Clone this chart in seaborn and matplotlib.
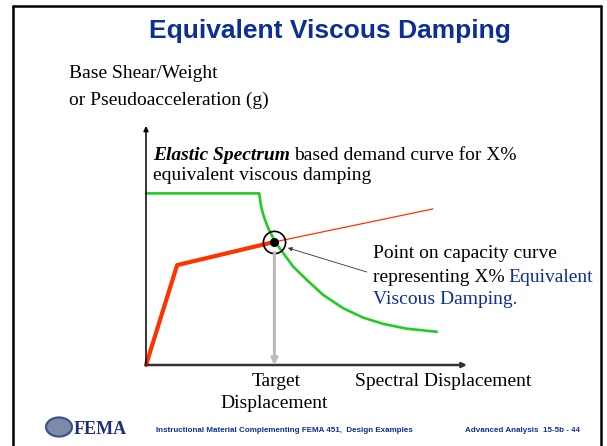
import numpy as np
import pandas as pd
import matplotlib

matplotlib.use("Agg")
import matplotlib.pyplot as plt
import seaborn as sns
from matplotlib.lines import Line2D

# capacity curve (bilinear), in spectral displacement / acceleration units
cap_disp = [0.0, 0.97, 4.0]
cap_acc = [0.0, 4.18, 5.15]
cap_ext_disp = [4.0, 8.94]
cap_ext_acc = [5.15, 6.53]

# elastic spectrum demand curve for X% damping
dem_disp = [0.0, 3.53, 3.55, 3.58, 3.63, 3.7, 3.81, 4.02, 4.28, 4.59, 5.01,
            5.52, 6.15, 6.77, 7.39, 8.12, 9.06]
dem_acc = [7.18, 7.18, 6.95, 6.68, 6.4, 6.1, 5.72, 5.16, 4.67, 4.11, 3.56,
           2.93, 2.37, 1.98, 1.72, 1.52, 1.39]

perf_disp = 4.0
perf_acc = 5.15

W, H = 607, 446
BLUE = "#0B2F96"
SERIF = "Liberation Serif"
SANS = "Liberation Sans"


def fx(px):
    return px / W


def fy(py):
    return 1 - py / H


sns.set_theme(style="white")
fig = plt.figure(figsize=(W / 100, H / 100), dpi=100)

# slide frame
for xs, ys in [([13, 13], [446, 6]), ([13, 600.5], [6, 6]),
               ([600.5, 600.5], [6, 446])]:
    fig.add_artist(Line2D([fx(v) for v in xs], [fy(v) for v in ys],
                          color="black", lw=1.8))

fig.text(fx(330), fy(38), "Equivalent Viscous Damping", ha="center",
         va="baseline", fontsize=19, fontweight="bold", color=BLUE,
         family=SANS)

# chart axes
x0, x1, ytop, ybot = 146, 467, 126, 365
ax = fig.add_axes([fx(x0), fy(ybot), (x1 - x0) / W, (ybot - ytop) / H])
ax.set_xlim(0, 10)
ax.set_ylim(0, 10)
ax.axis("off")

ax.annotate("", xy=(0, 10), xytext=(0, 0),
            arrowprops=dict(arrowstyle="-|>", color="black", lw=1.1,
                            mutation_scale=7, shrinkA=0, shrinkB=0))
ax.annotate("", xy=(10.0, 0), xytext=(0, 0),
            arrowprops=dict(arrowstyle="-|>", color="#333333", lw=1.8,
                            mutation_scale=7, shrinkA=0, shrinkB=0))

# target displacement drop line
ax.annotate("", xy=(perf_disp, 0), xytext=(perf_disp, perf_acc - 0.45),
            arrowprops=dict(arrowstyle="-|>", color="#BBBBBB", lw=2.2,
                            mutation_scale=9, shrinkA=0, shrinkB=0))

sns.lineplot(x=dem_disp, y=dem_acc, sort=False, color="#22CC22", lw=1.9,
             ax=ax, clip_on=False)
sns.lineplot(x=cap_ext_disp, y=cap_ext_acc, sort=False, color="#FF3300",
             lw=0.9, ax=ax, clip_on=False)
sns.lineplot(x=cap_disp, y=cap_acc, sort=False, color="#FF3300", lw=3.0,
             ax=ax, clip_on=False)

ax.plot([perf_disp], [perf_acc], "o", ms=16, mfc="none", mec="black",
        mew=1.2, clip_on=False)
ax.plot([perf_disp], [perf_acc], "o", ms=5.5, color="black", clip_on=False)

ax.annotate("", xy=(4.42, 4.9), xytext=(6.88, 3.89),
            arrowprops=dict(arrowstyle="-|>", color="#333333", lw=0.6,
                            mutation_scale=6, shrinkA=0, shrinkB=0))

# text blocks
fs = 14
fig.text(fx(69), fy(74), "Base Shear/Weight", fontsize=fs, family=SERIF,
         va="center", color="black")
fig.text(fx(69), fy(100), "or Pseudoacceleration (g)", fontsize=fs,
         family=SERIF, va="center", color="black")

t = fig.text(fx(153), fy(155), "Elastic Spectrum", fontsize=fs, family=SERIF,
             va="center", fontweight="bold", style="italic", color="black")
fig.canvas.draw()
bb = t.get_window_extent()
fig.text(bb.x1 / W + 0.007, fy(155), "based demand curve for X%",
         fontsize=fs, family=SERIF, va="center", color="black")
fig.text(fx(153), fy(176), "equivalent viscous damping", fontsize=fs,
         family=SERIF, va="center", color="black")

fig.text(fx(373), fy(253), "Point on capacity curve", fontsize=fs,
         family=SERIF, va="center", color="black")
t = fig.text(fx(373), fy(277), "representing X%", fontsize=fs, family=SERIF,
             va="center", color="black")
fig.canvas.draw()
bb = t.get_window_extent()
fig.text(bb.x1 / W + 0.007, fy(277), "Equivalent", fontsize=fs, family=SERIF,
         va="center", color=BLUE)
fig.text(fx(373), fy(299), "Viscous Damping.", fontsize=fs, family=SERIF,
         va="center", color=BLUE)

fig.text(fx(276), fy(382), "Target", fontsize=fs, family=SERIF, ha="center",
         va="center", color="black")
fig.text(fx(274), fy(403), "Displacement", fontsize=fs, family=SERIF,
         ha="center", va="center", color="black")
fig.text(fx(355), fy(382), "Spectral Displacement", fontsize=fs, family=SERIF,
         va="center", color="black")

# footer
logo = plt.Circle((fx(59), fy(427)), 13 / W, transform=fig.transFigure,
                  color="#7D8AA8", ec="#3A4E8C", lw=1.5)
fig.add_artist(logo)
fig.text(fx(74), fy(429), "FEMA", fontsize=13, family=SERIF,
         fontweight="bold", color="#1B2F7A", va="center")
fig.text(fx(156), fy(431),
         "Instructional Material Complementing FEMA 451,  Design Examples",
         fontsize=5.8, family=SANS, fontweight="bold", color=BLUE,
         va="center")
fig.text(fx(465), fy(431), "Advanced Analysis  15-5b - 44", fontsize=5.8,
         family=SANS, fontweight="bold", color=BLUE, va="center")

fig.savefig("out.png", dpi=100)
